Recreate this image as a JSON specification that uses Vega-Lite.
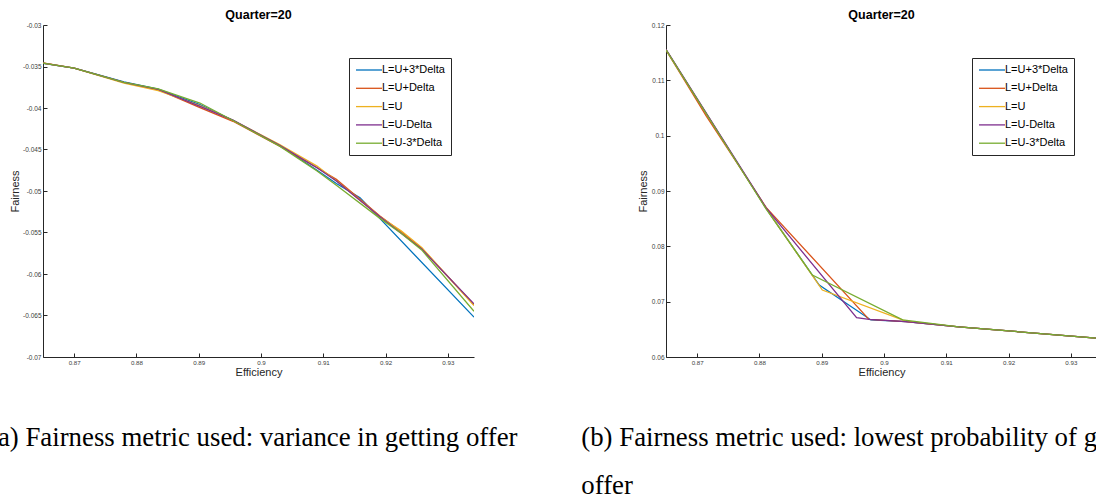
{
  "$schema": "https://vega.github.io/schema/vega-lite/v6.json",
  "background": "white",
  "padding": {"left": -11, "top": 8, "right": 0, "bottom": 0},
  "config": {
    "view": {"stroke": null},
    "font": "Liberation Sans",
    "concat": {"spacing": 63},
    "axis": {
      "grid": false,
      "domainColor": "#262626",
      "domainWidth": 1,
      "tickColor": "#262626",
      "tickWidth": 1,
      "tickSize": -4,
      "labelColor": "#404040",
      "labelFont": "Liberation Sans",
      "titleFont": "Liberation Sans",
      "titleFontSize": 11,
      "titleFontWeight": "normal",
      "titleColor": "#262626",
      "format": "~g",
      "labelExpr": "replace(datum.label, '\u2212', '-')"
    },
    "axisX": {"labelFontSize": 6.2, "labelPadding": 6, "titlePadding": 1},
    "axisY": {"labelFontSize": 6.5, "labelPadding": 6, "titlePadding": 2.5},
    "legend": {
      "symbolType": "M-2.6,0H2.6",
      "symbolSize": 100,
      "symbolOffset": 8,
      "symbolStrokeWidth": 1.3,
      "labelFontSize": 11,
      "labelFont": "Liberation Sans",
      "labelColor": "#000000",
      "strokeColor": "#262626",
      "fillColor": "white",
      "padding": 6,
      "rowPadding": 7.3,
      "labelOffset": 7
    },
    "title": {"font": "Liberation Sans", "fontSize": 12.5, "fontWeight": "bold", "color": "#000000", "offset": 1}
  },
  "hconcat": [
    {
      "title": {"text": "(a) Fairness metric used: variance in getting offer", "orient": "bottom", "anchor": "start", "frame": "group", "dx": -54, "font": "Liberation Serif", "fontSize": 26.8, "fontWeight": "normal", "color": "#000000", "offset": 48},
      "vconcat": [
        {
          "title": {"text": "Quarter=20", "anchor": "middle", "frame": "group"},
          "width": 431,
          "height": 332,
          "data": {"name": "a"},
          "mark": {"type": "line", "strokeWidth": 1.3, "clip": true},
          "encoding": {
            "x": {"field": "eff", "type": "quantitative", "scale": {"domain": [0.865, 0.9342], "nice": false, "zero": false}, "axis": {"values": [0.87, 0.88, 0.89, 0.9, 0.91, 0.92, 0.93], "title": "Efficiency"}},
            "y": {"field": "fair", "type": "quantitative", "scale": {"domain": [-0.07, -0.03], "nice": false, "zero": false}, "axis": {"values": [-0.07, -0.065, -0.06, -0.055, -0.05, -0.045, -0.04, -0.035, -0.03], "title": "Fairness"}},
            "color": {"field": "series", "type": "nominal", "scale": {"domain": ["L=U+3*Delta", "L=U+Delta", "L=U", "L=U-Delta", "L=U-3*Delta"], "range": ["#0072BD", "#D95319", "#EDB120", "#7E2F8E", "#77AC30"]}, "legend": {"orient": "none", "legendX": 306, "legendY": 33, "title": null}}
          }
        }
      ]
    },
    {
      "title": {"text": ["(b) Fairness metric used: lowest probability of getting", "offer"], "orient": "bottom", "anchor": "start", "frame": "group", "dx": -84.7, "font": "Liberation Serif", "fontSize": 26.8, "fontWeight": "normal", "color": "#000000", "offset": 48, "lineHeight": 48},
      "vconcat": [
        {
          "title": {"text": "Quarter=20", "anchor": "middle", "frame": "group"},
          "width": 431,
          "height": 332,
          "data": {"name": "b"},
          "mark": {"type": "line", "strokeWidth": 1.3, "clip": true},
          "encoding": {
            "x": {"field": "eff", "type": "quantitative", "scale": {"domain": [0.865, 0.9342], "nice": false, "zero": false}, "axis": {"values": [0.87, 0.88, 0.89, 0.9, 0.91, 0.92, 0.93], "title": "Efficiency"}},
            "y": {"field": "fair", "type": "quantitative", "scale": {"domain": [0.06, 0.12], "nice": false, "zero": false}, "axis": {"values": [0.06, 0.07, 0.08, 0.09, 0.1, 0.11, 0.12], "title": "Fairness"}},
            "color": {"field": "series", "type": "nominal", "scale": {"domain": ["L=U+3*Delta", "L=U+Delta", "L=U", "L=U-Delta", "L=U-3*Delta"], "range": ["#0072BD", "#D95319", "#EDB120", "#7E2F8E", "#77AC30"]}, "legend": {"orient": "none", "legendX": 306, "legendY": 33, "title": null}}
          }
        }
      ]
    }
  ],
  "resolve": {"scale": {"color": "independent"}},
  "datasets": {
    "a": [
      {"series": "L=U+3*Delta", "eff": 0.865, "fair": -0.03462},
      {"series": "L=U+3*Delta", "eff": 0.870, "fair": -0.0352},
      {"series": "L=U+3*Delta", "eff": 0.878, "fair": -0.03685},
      {"series": "L=U+3*Delta", "eff": 0.8835, "fair": -0.03772},
      {"series": "L=U+3*Delta", "eff": 0.8902, "fair": -0.0396},
      {"series": "L=U+3*Delta", "eff": 0.8955, "fair": -0.0415},
      {"series": "L=U+3*Delta", "eff": 0.903, "fair": -0.0445},
      {"series": "L=U+3*Delta", "eff": 0.909, "fair": -0.0475},
      {"series": "L=U+3*Delta", "eff": 0.9121, "fair": -0.0491},
      {"series": "L=U+3*Delta", "eff": 0.9159, "fair": -0.0508},
      {"series": "L=U+3*Delta", "eff": 0.9342, "fair": -0.0652},
      {"series": "L=U+Delta", "eff": 0.865, "fair": -0.03458},
      {"series": "L=U+Delta", "eff": 0.870, "fair": -0.0352},
      {"series": "L=U+Delta", "eff": 0.878, "fair": -0.0369},
      {"series": "L=U+Delta", "eff": 0.8835, "fair": -0.0378},
      {"series": "L=U+Delta", "eff": 0.8902, "fair": -0.03996},
      {"series": "L=U+Delta", "eff": 0.8955, "fair": -0.0416},
      {"series": "L=U+Delta", "eff": 0.903, "fair": -0.0446},
      {"series": "L=U+Delta", "eff": 0.909, "fair": -0.0472},
      {"series": "L=U+Delta", "eff": 0.9121, "fair": -0.0486},
      {"series": "L=U+Delta", "eff": 0.9191, "fair": -0.053},
      {"series": "L=U+Delta", "eff": 0.9225, "fair": -0.0549},
      {"series": "L=U+Delta", "eff": 0.9258, "fair": -0.0569},
      {"series": "L=U+Delta", "eff": 0.9342, "fair": -0.0637},
      {"series": "L=U", "eff": 0.865, "fair": -0.0346},
      {"series": "L=U", "eff": 0.870, "fair": -0.0352},
      {"series": "L=U", "eff": 0.878, "fair": -0.037},
      {"series": "L=U", "eff": 0.8835, "fair": -0.0379},
      {"series": "L=U", "eff": 0.8902, "fair": -0.0397},
      {"series": "L=U", "eff": 0.8955, "fair": -0.0415},
      {"series": "L=U", "eff": 0.903, "fair": -0.0444},
      {"series": "L=U", "eff": 0.909, "fair": -0.047},
      {"series": "L=U", "eff": 0.9125, "fair": -0.049},
      {"series": "L=U", "eff": 0.9191, "fair": -0.0531},
      {"series": "L=U", "eff": 0.9225, "fair": -0.0548},
      {"series": "L=U", "eff": 0.9258, "fair": -0.0568},
      {"series": "L=U", "eff": 0.9342, "fair": -0.0638},
      {"series": "L=U-Delta", "eff": 0.865, "fair": -0.0346},
      {"series": "L=U-Delta", "eff": 0.870, "fair": -0.0352},
      {"series": "L=U-Delta", "eff": 0.878, "fair": -0.0369},
      {"series": "L=U-Delta", "eff": 0.8835, "fair": -0.03775},
      {"series": "L=U-Delta", "eff": 0.8902, "fair": -0.0398},
      {"series": "L=U-Delta", "eff": 0.8955, "fair": -0.04145},
      {"series": "L=U-Delta", "eff": 0.903, "fair": -0.0445},
      {"series": "L=U-Delta", "eff": 0.909, "fair": -0.0472},
      {"series": "L=U-Delta", "eff": 0.9121, "fair": -0.0488},
      {"series": "L=U-Delta", "eff": 0.9191, "fair": -0.0531},
      {"series": "L=U-Delta", "eff": 0.9225, "fair": -0.0551},
      {"series": "L=U-Delta", "eff": 0.9258, "fair": -0.057},
      {"series": "L=U-Delta", "eff": 0.9342, "fair": -0.0636},
      {"series": "L=U-3*Delta", "eff": 0.865, "fair": -0.0346},
      {"series": "L=U-3*Delta", "eff": 0.870, "fair": -0.0352},
      {"series": "L=U-3*Delta", "eff": 0.878, "fair": -0.0369},
      {"series": "L=U-3*Delta", "eff": 0.8835, "fair": -0.0377},
      {"series": "L=U-3*Delta", "eff": 0.8902, "fair": -0.0394},
      {"series": "L=U-3*Delta", "eff": 0.8955, "fair": -0.0415},
      {"series": "L=U-3*Delta", "eff": 0.903, "fair": -0.0446},
      {"series": "L=U-3*Delta", "eff": 0.909, "fair": -0.0476},
      {"series": "L=U-3*Delta", "eff": 0.9121, "fair": -0.0493},
      {"series": "L=U-3*Delta", "eff": 0.9191, "fair": -0.0533},
      {"series": "L=U-3*Delta", "eff": 0.9225, "fair": -0.0551},
      {"series": "L=U-3*Delta", "eff": 0.9258, "fair": -0.0571},
      {"series": "L=U-3*Delta", "eff": 0.9342, "fair": -0.0645}
    ],
    "b": [
      {"series": "L=U+3*Delta", "eff": 0.865, "fair": 0.1155},
      {"series": "L=U+3*Delta", "eff": 0.8811, "fair": 0.0868},
      {"series": "L=U+3*Delta", "eff": 0.8896, "fair": 0.073},
      {"series": "L=U+3*Delta", "eff": 0.8979, "fair": 0.0667},
      {"series": "L=U+3*Delta", "eff": 0.9035, "fair": 0.0664},
      {"series": "L=U+3*Delta", "eff": 0.912, "fair": 0.06545},
      {"series": "L=U+3*Delta", "eff": 0.9342, "fair": 0.0634},
      {"series": "L=U+Delta", "eff": 0.865, "fair": 0.1155},
      {"series": "L=U+Delta", "eff": 0.8715, "fair": 0.1035},
      {"series": "L=U+Delta", "eff": 0.8811, "fair": 0.087},
      {"series": "L=U+Delta", "eff": 0.8976, "fair": 0.0668},
      {"series": "L=U+Delta", "eff": 0.9035, "fair": 0.0664},
      {"series": "L=U+Delta", "eff": 0.912, "fair": 0.06545},
      {"series": "L=U+Delta", "eff": 0.9342, "fair": 0.0634},
      {"series": "L=U", "eff": 0.865, "fair": 0.1155},
      {"series": "L=U", "eff": 0.8811, "fair": 0.0868},
      {"series": "L=U", "eff": 0.8901, "fair": 0.0721},
      {"series": "L=U", "eff": 0.9035, "fair": 0.0665},
      {"series": "L=U", "eff": 0.912, "fair": 0.06545},
      {"series": "L=U", "eff": 0.9342, "fair": 0.0634},
      {"series": "L=U-Delta", "eff": 0.865, "fair": 0.1156},
      {"series": "L=U-Delta", "eff": 0.8811, "fair": 0.0869},
      {"series": "L=U-Delta", "eff": 0.8956, "fair": 0.0671},
      {"series": "L=U-Delta", "eff": 0.8976, "fair": 0.0668},
      {"series": "L=U-Delta", "eff": 0.9035, "fair": 0.0664},
      {"series": "L=U-Delta", "eff": 0.912, "fair": 0.06545},
      {"series": "L=U-Delta", "eff": 0.9342, "fair": 0.0634},
      {"series": "L=U-3*Delta", "eff": 0.865, "fair": 0.1155},
      {"series": "L=U-3*Delta", "eff": 0.8811, "fair": 0.0867},
      {"series": "L=U-3*Delta", "eff": 0.8885, "fair": 0.0748},
      {"series": "L=U-3*Delta", "eff": 0.903, "fair": 0.0667},
      {"series": "L=U-3*Delta", "eff": 0.912, "fair": 0.06545},
      {"series": "L=U-3*Delta", "eff": 0.9342, "fair": 0.0634}
    ]
  }
}
